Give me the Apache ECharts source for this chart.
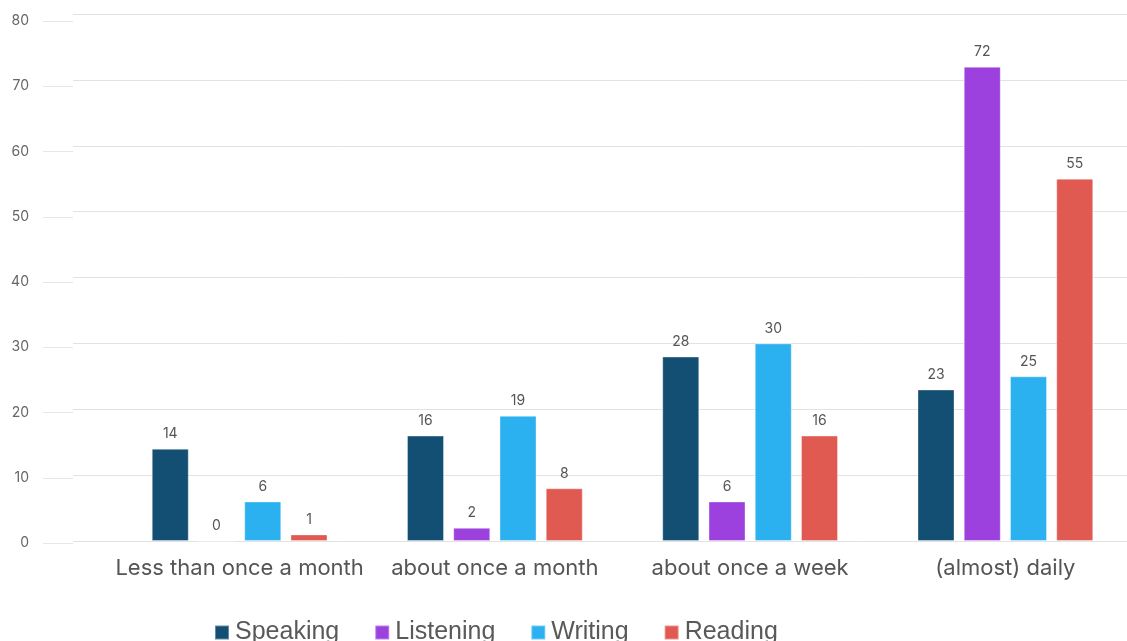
<!DOCTYPE html>
<html>
<head>
<meta charset="utf-8">
<script src="https://cdn.jsdelivr.net/npm/echarts@6/dist/echarts.min.js"></script>
<style>
html,body{margin:0;padding:0;background:#fff;overflow:hidden;width:1127px;height:641px;}
#chart{width:1140px;height:641px;}
</style>
</head>
<body>
<div id="chart"></div>
<script>
const categories = ["Less than once a month", "about once a month", "about once a week", "(almost) daily"];
const speaking = [14, 16, 28, 23];
const listening = [0, 2, 6, 72];
const writing = [6, 19, 30, 25];
const reading = [1, 8, 16, 55];
const seriesNames = ["Speaking", "Listening", "Writing", "Reading"];
const yTicks = {min: 0, max: 80, interval: 10};

const colors = ["#134f73", "#9c41de", "#2bb1ef", "#e05a51"];
const chart = echarts.init(document.getElementById('chart'), null, {renderer: 'canvas'});
const font = 'Inter, "Noto Sans", sans-serif';

function barSeries(name, data, i) {
  return {
    name: name,
    type: 'bar',
    xAxisIndex: 1,
    yAxisIndex: 1,
    data: data,
    barWidth: 37,
    barGap: '25%',
    itemStyle: {color: colors[i], borderColor: 'rgba(255,255,255,0.35)', borderWidth: 1},
    label: {
      show: true,
      position: 'top',
      distance: 8,
      fontFamily: font,
      fontSize: 14,
      color: '#555'
    }
  };
}

chart.setOption({
  animation: false,
  color: colors,
  grid: [
    {left: 73, right: 13, top: 14, bottom: 100},
    {left: 112, width: 1021, top: 14, bottom: 100},
    {left: 73, right: 13, top: 21, bottom: 98}
  ],
  xAxis: [
    {type: 'value', gridIndex: 0, show: false, min: 0, max: 1},
    {
      type: 'category', gridIndex: 1, data: categories,
      axisLine: {show: false}, axisTick: {show: false},
      axisLabel: {interval: 0, fontFamily: font, fontSize: 22, color: '#555', margin: 16}
    },
    {type: 'value', gridIndex: 2, show: false, min: 0, max: 1}
  ],
  yAxis: [
    {
      type: 'value', gridIndex: 0, min: yTicks.min, max: yTicks.max, interval: yTicks.interval,
      axisLine: {show: false}, axisTick: {show: false}, axisLabel: {show: false},
      splitLine: {lineStyle: {color: '#e2e2e2', width: 1}}
    },
    {
      type: 'value', gridIndex: 1, min: yTicks.min, max: yTicks.max, interval: yTicks.interval,
      show: false, splitLine: {show: false}
    },
    {
      type: 'value', gridIndex: 2, min: yTicks.min, max: yTicks.max, interval: yTicks.interval,
      axisLine: {show: false},
      axisTick: {show: true, length: 30, lineStyle: {color: '#e6e6e6'}},
      splitLine: {show: false},
      axisLabel: {fontFamily: font, fontSize: 14, color: '#666', margin: 44}
    }
  ],
  legend: {
    left: 209, top: 615,
    itemWidth: 14, itemHeight: 14, itemGap: 35,
    icon: 'rect',
    textStyle: {fontFamily: '"Liberation Sans", Arial, sans-serif', fontSize: 25, color: '#595959', padding: [0, 0, 0, 1]},
    data: seriesNames
  },
  series: [
    barSeries(seriesNames[0], speaking, 0),
    barSeries(seriesNames[1], listening, 1),
    barSeries(seriesNames[2], writing, 2),
    barSeries(seriesNames[3], reading, 3)
  ]
});
</script>
</body>
</html>
